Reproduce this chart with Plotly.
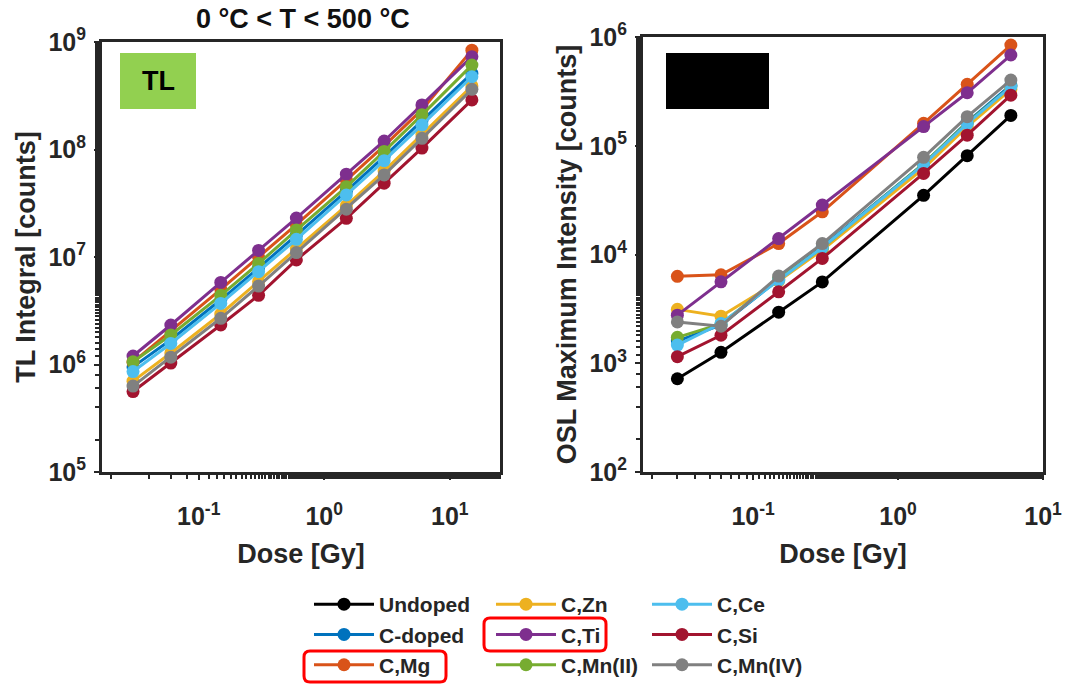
import plotly.graph_objects as go

W, H = 1076, 684

dose_tl = [0.03, 0.06, 0.15, 0.3, 0.6, 1.5, 3, 6, 15]
dose_osl = [0.03, 0.06, 0.15, 0.3, 1.5, 3, 6]

names = ["Undoped", "C-doped", "C,Mg", "C,Zn", "C,Ti", "C,Mn(II)", "C,Ce", "C,Si", "C,Mn(IV)"]
colors = ["#000000", "#0072BD", "#D95319", "#EDB120", "#7E2F8E", "#77AC30", "#4DBEEE", "#A2142F", "#808080"]

tl_cdoped = [9.5e5, 1.7e6, 4.0e6, 7.9e6, 1.6e7, 4.1e7, 8.6e7, 1.85e8, 5.1e8]
tl_cmg = [1.05e6, 2.05e6, 5.0e6, 1.0e7, 2.0e7, 5.2e7, 1.08e8, 2.35e8, 8.4e8]
tl_czn = [7.0e5, 1.28e6, 2.95e6, 5.9e6, 1.2e7, 3.0e7, 6.3e7, 1.38e8, 3.9e8]
tl_cti = [1.2e6, 2.33e6, 5.8e6, 1.15e7, 2.3e7, 5.9e7, 1.2e8, 2.6e8, 7.3e8]
tl_cmn2 = [1.06e6, 1.88e6, 4.4e6, 8.7e6, 1.78e7, 4.5e7, 9.6e7, 2.1e8, 6.1e8]
tl_cce = [8.6e5, 1.57e6, 3.7e6, 7.3e6, 1.46e7, 3.78e7, 7.87e7, 1.69e8, 4.75e8]
tl_csi = [5.6e5, 1.03e6, 2.33e6, 4.4e6, 9.4e6, 2.29e7, 4.86e7, 1.03e8, 2.89e8]
tl_cmn4 = [6.3e5, 1.17e6, 2.69e6, 5.37e6, 1.1e7, 2.78e7, 5.8e7, 1.27e8, 3.63e8]

osl_undoped = [720, 1260, 2950, 5600, 35000, 81000, 190000]
osl_cdoped = [1600, 2250, 5900, 11800, 68000, 165000, 360000]
osl_cmg = [6300, 6500, 12600, 24700, 161000, 367000, 844000]
osl_czn = [3130, 2710, 5700, 11000, 62000, 150000, 330000]
osl_cti = [2770, 5610, 14000, 28500, 150000, 307000, 683000]
osl_cmn2 = [1730, 2300, 6000, 11500, 68000, 162000, 350000]
osl_cce = [1470, 2320, 5800, 11600, 67000, 160000, 350000]
osl_csi = [1150, 1810, 4540, 9200, 55700, 125000, 292000]
osl_cmn4 = [2400, 2190, 6330, 12600, 78200, 185000, 402000]

tl_data = [None, tl_cdoped, tl_cmg, tl_czn, tl_cti, tl_cmn2, tl_cce, tl_csi, tl_cmn4]
osl_data = [osl_undoped, osl_cdoped, osl_cmg, osl_czn, osl_cti, osl_cmn2, osl_cce, osl_csi, osl_cmn4]
legend_of = ["legend", "legend", "legend", "legend2", "legend2", "legend2", "legend3", "legend3", "legend3"]

x_ticks = [0.1, 1, 10]
x_ticktext = ["10<sup>-1</sup>", "10<sup>0</sup>", "10<sup>1</sup>"]
tl_yticks = [1e5, 1e6, 1e7, 1e8, 1e9]
tl_yticktext = ["10<sup>5</sup>", "10<sup>6</sup>", "10<sup>7</sup>", "10<sup>8</sup>", "10<sup>9</sup>"]
osl_yticks = [1e2, 1e3, 1e4, 1e5, 1e6]
osl_yticktext = ["10<sup>2</sup>", "10<sup>3</sup>", "10<sup>4</sup>", "10<sup>5</sup>", "10<sup>6</sup>"]

FONT = "Liberation Sans"
AX = "#262626"

fig = go.Figure()

for n, c, d in zip(names, colors, tl_data):
    if d is None:
        continue
    fig.add_trace(go.Scatter(x=dose_tl, y=d, mode="lines+markers", name=n,
                             line=dict(color=c, width=3), marker=dict(color=c, size=13),
                             xaxis="x", yaxis="y", showlegend=False))

for n, c, d, lg in zip(names, colors, osl_data, legend_of):
    fig.add_trace(go.Scatter(x=dose_osl, y=d, mode="lines+markers", name=n,
                             line=dict(color=c, width=3), marker=dict(color=c, size=13),
                             xaxis="x2", yaxis="y2", showlegend=True, legend=lg))

def px(x):
    return x / W

def py(y):
    return 1 - y / H

TITLE_FONT = dict(family=FONT, size=27, color=AX, weight="bold")
axis_common = dict(type="log", showline=True, linecolor=AX, linewidth=3, mirror=True,
                   ticks="outside", ticklen=5, tickwidth=2, tickcolor=AX,
                   showgrid=False, zeroline=False, automargin=False,
                   tickfont=dict(family=FONT, size=25, color=AX, weight="bold"),
                   minor=dict(ticks="outside", ticklen=4, tickwidth=2, tickcolor=AX))

fig.update_layout(
    width=W, height=H, margin=dict(l=0, r=0, t=0, b=0, autoexpand=False),
    paper_bgcolor="white", plot_bgcolor="white",
    font=dict(family=FONT, color=AX),
    xaxis=dict(axis_common, domain=[px(102), px(500)], range=[-1.77, 1.40],
               tickvals=x_ticks, ticktext=x_ticktext, anchor="y", ticklabelstandoff=15,
               title=dict(text="Dose [Gy]", font=TITLE_FONT, standoff=16)),
    yaxis=dict(axis_common, domain=[py(472), py(42)], range=[5, 9],
               tickvals=tl_yticks, ticktext=tl_yticktext, anchor="x", ticklabelstandoff=3,
               title=dict(text="TL Integral [counts]", font=TITLE_FONT, standoff=6)),
    xaxis2=dict(axis_common, domain=[px(643), px(1043)], range=[-1.76, 1.0],
                tickvals=x_ticks, ticktext=x_ticktext, anchor="y2", ticklabelstandoff=15,
                title=dict(text="Dose [Gy]", font=TITLE_FONT, standoff=16)),
    yaxis2=dict(axis_common, domain=[py(472), py(37)], range=[2, 6],
                tickvals=osl_yticks, ticktext=osl_yticktext, anchor="x2", ticklabelstandoff=3,
                title=dict(text="OSL Maximum Intensity [counts]", font=TITLE_FONT, standoff=6)),
)

leg_common = dict(orientation="v", yanchor="top", xanchor="left", bgcolor="rgba(0,0,0,0)",
                  font=dict(family=FONT, size=21, color=AX, weight="bold"),
                  tracegroupgap=0, itemwidth=60)
fig.update_layout(
    legend=dict(leg_common, x=px(309), y=py(584)),
    legend2=dict(leg_common, x=px(491), y=py(584)),
    legend3=dict(leg_common, x=px(647), y=py(584)),
)

shapes = []
shapes.append(dict(type="rect", xref="paper", yref="paper", x0=px(120), x1=px(196), y0=py(109), y1=py(53),
                   fillcolor="#92D050", line=dict(width=0), layer="above"))
shapes.append(dict(type="rect", xref="paper", yref="paper", x0=px(666), x1=px(769), y0=py(109), y1=py(53),
                   fillcolor="#000000", line=dict(width=0), layer="above"))

def rounded(x0, y0, x1, y1, r):
    pts = [
        f"M {px(x0 + r)} {py(y0)}",
        f"L {px(x1 - r)} {py(y0)}",
        f"Q {px(x1)} {py(y0)} {px(x1)} {py(y0 + r)}",
        f"L {px(x1)} {py(y1 - r)}",
        f"Q {px(x1)} {py(y1)} {px(x1 - r)} {py(y1)}",
        f"L {px(x0 + r)} {py(y1)}",
        f"Q {px(x0)} {py(y1)} {px(x0)} {py(y1 - r)}",
        f"L {px(x0)} {py(y0 + r)}",
        f"Q {px(x0)} {py(y0)} {px(x0 + r)} {py(y0)}",
        "Z",
    ]
    return " ".join(pts)

shapes.append(dict(type="path", xref="paper", yref="paper", path=rounded(484, 618, 606, 651, 6),
                   line=dict(color="#FF0000", width=3)))
shapes.append(dict(type="path", xref="paper", yref="paper", path=rounded(304, 651, 446, 682, 6),
                   line=dict(color="#FF0000", width=3)))
fig.update_layout(shapes=shapes)

fig.add_annotation(text="TL", xref="paper", yref="paper", x=px(158), y=py(81),
                   xanchor="center", yanchor="middle",
                   showarrow=False, font=dict(family=FONT, size=27, color="#000000", weight="bold"))
fig.add_annotation(text="0 °C < T < 500 °C", xref="paper", yref="paper", x=px(303), y=py(19),
                   xanchor="center", yanchor="middle",
                   showarrow=False, font=dict(family=FONT, size=27, color="#111111", weight="bold"))

fig.write_html("out.html", post_script="document.body.style.margin='0px';",
               config={"displayModeBar": False})
